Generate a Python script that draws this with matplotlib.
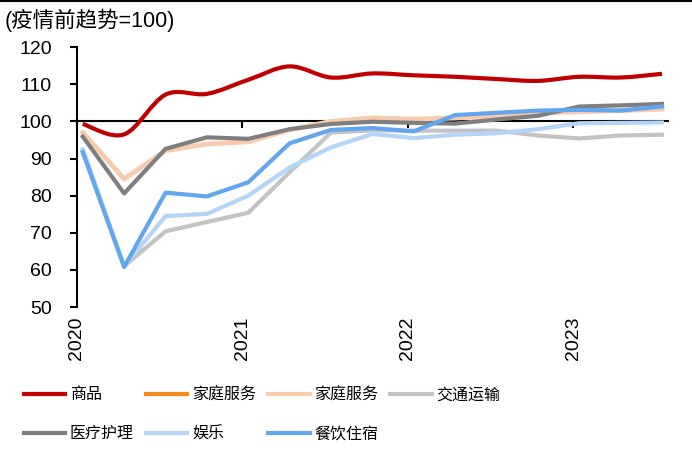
import numpy as np
import matplotlib
matplotlib.use("Agg")
import matplotlib.pyplot as plt
from matplotlib.path import Path
from matplotlib.patches import PathPatch
from matplotlib.lines import Line2D

plt.rcParams['font.family'] = ['Liberation Sans', 'Noto Sans CJK SC']

# quarterly points, 2020Q1 .. 2023Q3 (index, pre-pandemic trend = 100)
quarters = 2020.036 + 0.25 * np.arange(15)
years = [2020, 2021, 2022, 2023]

goods = [99.3, 96.5, 107.2, 107.4, 111.2, 114.8, 111.8, 112.9, 112.4, 112.0, 111.4, 110.9, 112.0, 111.8, 112.8]
household_b = [97.0, 84.5, 92.1, 93.9, 94.5, 97.7, 100.0, 100.9, 100.6, 100.9, 101.5, 102.2, 102.6, 102.9, 103.3]
transport = [92.0, 61.0, 70.4, 72.9, 75.4, 86.3, 97.0, 97.6, 97.5, 97.5, 97.5, 96.2, 95.4, 96.2, 96.4]
medical = [95.9, 80.6, 92.6, 95.7, 95.3, 97.9, 99.3, 99.9, 99.6, 99.4, 100.5, 101.5, 104.0, 104.3, 104.7]
recreation = [92.5, 61.0, 74.5, 75.1, 80.0, 87.6, 93.0, 96.6, 95.5, 96.4, 96.8, 97.9, 99.5, 99.6, 99.7]
food_lodging = [91.7, 60.8, 80.8, 79.8, 83.6, 94.1, 97.7, 98.2, 97.3, 101.7, 102.3, 102.9, 103.1, 102.9, 104.0]

c_goods = '#C00000'
c_house_a = '#F78A1E'
c_house_b = '#F8CBAD'
c_transport = '#C3C3C3'
c_medical = '#7F7F7F'
c_recreation = '#B4D5F8'
c_food = '#62A6F0'


def smooth_path(x, y):
    # Catmull-Rom style bezier through the data points (like Excel smoothed line)
    pts = np.column_stack([x, y]).astype(float)
    ext = np.vstack([pts[0], pts, pts[-1]])
    verts = [pts[0]]
    codes = [Path.MOVETO]
    for i in range(len(pts) - 1):
        p0, p1, p2, p3 = ext[i], ext[i + 1], ext[i + 2], ext[i + 3]
        verts += [p1 + (p2 - p0) / 6, p2 - (p3 - p1) / 6, p2]
        codes += [Path.CURVE4] * 3
    return Path(verts, codes)


fig = plt.figure(figsize=(6.92, 4.57), dpi=100)
ax = fig.add_axes([0.111, 0.328, 0.854, 0.569])

lw = 3
ax.add_patch(PathPatch(smooth_path(quarters, goods), facecolor='none',
                       edgecolor=c_goods, lw=lw, zorder=3))
ax.plot([], [], color=c_house_a, lw=lw)
ax.plot(quarters, household_b, color=c_house_b, lw=lw + 0.5)
ax.plot(quarters, transport, color=c_transport, lw=lw)
ax.plot(quarters, medical, color=c_medical, lw=lw)
ax.plot(quarters, recreation, color=c_recreation, lw=lw)
ax.plot(quarters, food_lodging, color=c_food, lw=lw)

ymin, ymax = 50, 120
ax.set_ylim(ymin, ymax)
ax.set_xlim(2020, 2023.571)
ax.set_yticks(range(50, 121, 10))
ax.set_xticks(years)
ax.set_xticklabels([str(y) for y in years], rotation=90, va='top')

for s in ['top', 'right', 'bottom']:
    ax.spines[s].set_visible(False)
ax.spines['left'].set_linewidth(1.5)
ax.tick_params(axis='y', length=5, width=1.5, pad=13, labelsize=14)
ax.tick_params(axis='x', length=0, pad=7, labelsize=14)

# horizontal axis line crossing at 100
sec = ax.secondary_xaxis((100 - ymin) / (ymax - ymin))
sec.set_xticks(years)
sec.tick_params(direction='in', length=5, width=1.5, labeltop=False, labelbottom=False)
for s in sec.spines.values():
    s.set_linewidth(1.5)

fig.text(0.007, 0.955, '(疫情前趋势=100)', fontsize=15.5, ha='left', va='center')

fig.add_artist(Line2D([0, 1], [0.998, 0.998], color='black', lw=1.5,
                      transform=fig.transFigure))

names = ['商品', '医疗护理', '家庭服务', '娱乐', '家庭服务', '餐饮住宿', '交通运输']
colors = [c_goods, c_medical, c_house_a, c_recreation, c_house_b, c_food, c_transport]
handles = [Line2D([], [], color=c, lw=lw) for c in colors]
fig.legend(handles, names, loc='upper left', bbox_to_anchor=(0.034, 0.153),
           ncol=4, frameon=False, fontsize=11.5, handlelength=2.6,
           handletextpad=0.3, columnspacing=0.75, labelspacing=1.5,
           borderpad=0, borderaxespad=0)

fig.savefig('out.png', dpi=100)
